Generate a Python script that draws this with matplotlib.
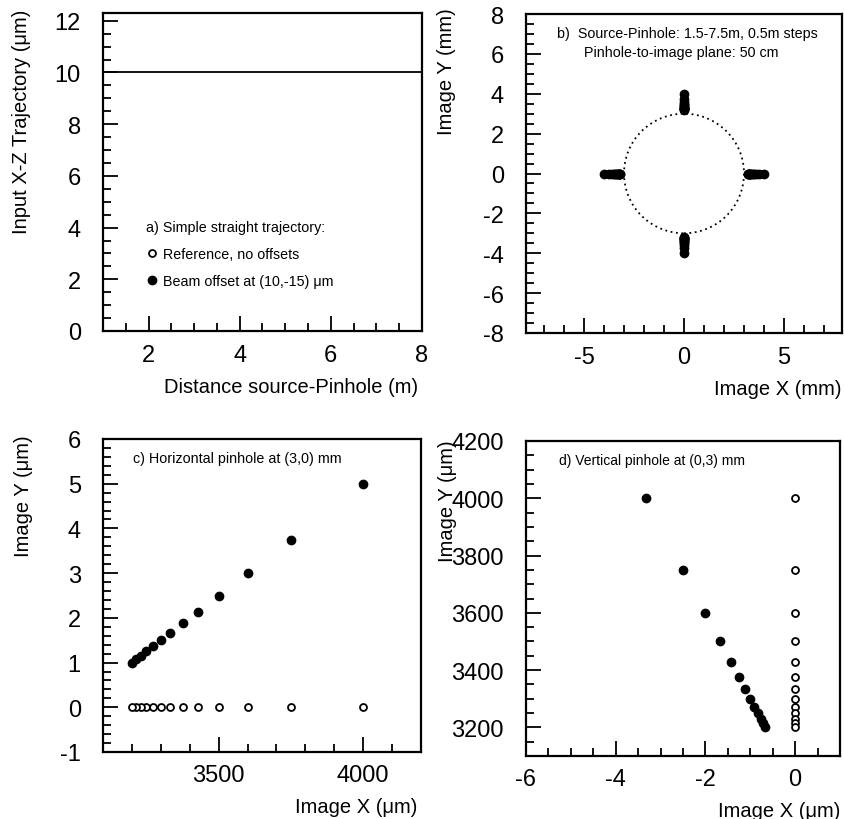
import matplotlib
matplotlib.use("Agg")
import matplotlib.pyplot as plt
from matplotlib.lines import Line2D
from matplotlib.patches import Circle
from matplotlib.ticker import MultipleLocator

plt.rcParams['font.family'] = ['Liberation Sans', 'DejaVu Sans']
plt.rcParams['axes.unicode_minus'] = False

# panel a: input trajectory vs source-pinhole distance
traj_dist = [1, 8]
traj_offset = [10, 10]
traj_ref = [0, 0]

img_pos_um = [4000, 3750, 3600, 3500, 3428.6, 3375, 3333.3, 3300,
              3272.7, 3250, 3230.8, 3214.3, 3200]
ref_shift_um = [0, 0, 0, 0, 0, 0, 0, 0, 0, 0, 0, 0, 0]
horiz_shift_um = [5.0, 3.75, 3.0, 2.5, 2.14, 1.875, 1.667, 1.5,
                  1.364, 1.25, 1.154, 1.071, 1.0]
vert_shift_um = [-3.333, -2.5, -2.0, -1.667, -1.429, -1.25, -1.111, -1.0,
                 -0.909, -0.833, -0.769, -0.714, -0.667]

# panel b: image spots in mm
spot_pos_mm = [4.0, 3.75, 3.6, 3.5, 3.429, 3.375, 3.333, 3.3,
               3.273, 3.25, 3.231, 3.214, 3.2]
spot_zero = [0, 0, 0, 0, 0, 0, 0, 0, 0, 0, 0, 0, 0]
pinhole_radius_mm = 3

W, H = 845, 820
fig = plt.figure(figsize=(W / 100, H / 100), dpi=100)


def make_axes(l, r, t, b):
    return fig.add_axes([l / W, (H - b) / H, (r - l) / W, (b - t) / H])


def style(ax, xmaj, xmin, ymaj, ymin):
    ax.xaxis.set_major_locator(MultipleLocator(xmaj))
    ax.xaxis.set_minor_locator(MultipleLocator(xmin))
    ax.yaxis.set_major_locator(MultipleLocator(ymaj))
    ax.yaxis.set_minor_locator(MultipleLocator(ymin))
    ax.tick_params(which='both', direction='in', top=False, right=False,
                   width=1.3, labelsize=17)
    ax.tick_params(axis='x', pad=9)
    ax.tick_params(axis='y', pad=16)
    ax.tick_params(which='major', length=11)
    ax.tick_params(which='minor', length=5.5)
    for s in ax.spines.values():
        s.set_linewidth(1.6)


def labels(ax, xl, yl, xpos, ypos, yx):
    ax.set_xlabel(xl, fontsize=14.5)
    ax.xaxis.label.set_ha('right')
    ax.xaxis.label.set_va('center')
    ax.xaxis.set_label_coords(xpos, -0.173)
    ax.set_ylabel(yl, fontsize=14.5)
    ax.yaxis.label.set_ha('right')
    ax.yaxis.label.set_va('center')
    ax.yaxis.set_label_coords(yx, ypos)


fill_kw = dict(ls='none', marker='o', ms=6, color='black')
open_kw = dict(ls='none', marker='o', ms=5, mfc='white', mec='black', mew=1.3)

# a)
ax = make_axes(103, 422, 14, 332)
ax.plot(traj_dist, traj_offset, color='black', lw=1.3)
ax.plot(traj_dist, traj_ref, color='black', lw=1.3)
ax.set_xlim(1, 8)
ax.set_ylim(0, 12.3)
style(ax, 2, 0.5, 2, 0.5)
labels(ax, 'Distance source-Pinhole (m)', 'Input X-Z Trajectory (\u03bcm)', 0.987, 1.015, -0.255)
handles = [Line2D([], [], **open_kw), Line2D([], [], **fill_kw)]
leg = ax.legend(handles, ['Reference, no offsets', 'Beam offset at (10,-15) \u03bcm'],
                title='a) Simple straight trajectory:', title_fontsize=10.3, fontsize=10.3,
                frameon=False, loc='upper left', bbox_to_anchor=(0.095, 0.39),
                handletextpad=0.4, handlelength=0.8, labelspacing=0.9)
leg._legend_box.align = 'left'

# b)
ax = make_axes(526, 842, 15, 334)
ax.add_patch(Circle((0, 0), pinhole_radius_mm, fill=False, ls=(0, (1, 2)), lw=1.3, color='black'))
ax.plot(spot_pos_mm, spot_zero, **fill_kw)
ax.plot([-v for v in spot_pos_mm], spot_zero, **fill_kw)
ax.plot(spot_zero, spot_pos_mm, **fill_kw)
ax.plot(spot_zero, [-v for v in spot_pos_mm], **fill_kw)
ax.set_xlim(-7.9, 7.9)
ax.set_ylim(-8, 8)
style(ax, 5, 1, 2, 0.5)
labels(ax, 'Image X (mm)', 'Image Y (mm)', 1.0, 1.02, -0.25)
ax.text(0.51, 0.94, 'b)  Source-Pinhole: 1.5-7.5m, 0.5m steps', transform=ax.transAxes,
        ha='center', va='center', fontsize=10.3)
ax.text(0.49, 0.88, 'Pinhole-to-image plane: 50 cm', transform=ax.transAxes,
        ha='center', va='center', fontsize=10.3)

# c)
ax = make_axes(103, 421, 440, 753)
ax.plot(img_pos_um, ref_shift_um, **open_kw)
ax.plot(img_pos_um, horiz_shift_um, **fill_kw)
ax.set_xlim(3100, 4200)
ax.set_ylim(-1, 6)
style(ax, 500, 100, 1, 0.2)
labels(ax, 'Image X (\u03bcm)', 'Image Y (\u03bcm)', 0.99, 1.016, -0.25)
ax.text(0.095, 0.94, 'c) Horizontal pinhole at (3,0) mm', transform=ax.transAxes,
        ha='left', va='center', fontsize=10.3)

# d)
ax = make_axes(526, 840, 442, 757)
ax.plot(ref_shift_um, img_pos_um, **open_kw)
ax.plot(vert_shift_um, img_pos_um, **fill_kw)
ax.set_xlim(-6, 1)
ax.set_ylim(3100, 4200)
style(ax, 2, 0.5, 200, 50)
labels(ax, 'Image X (\u03bcm)', 'Image Y (\u03bcm)', 1.0, 1.006, -0.25)
ax.text(0.105, 0.94, 'd) Vertical pinhole at (0,3) mm', transform=ax.transAxes,
        ha='left', va='center', fontsize=10)

fig.savefig('out.png', dpi=100)
